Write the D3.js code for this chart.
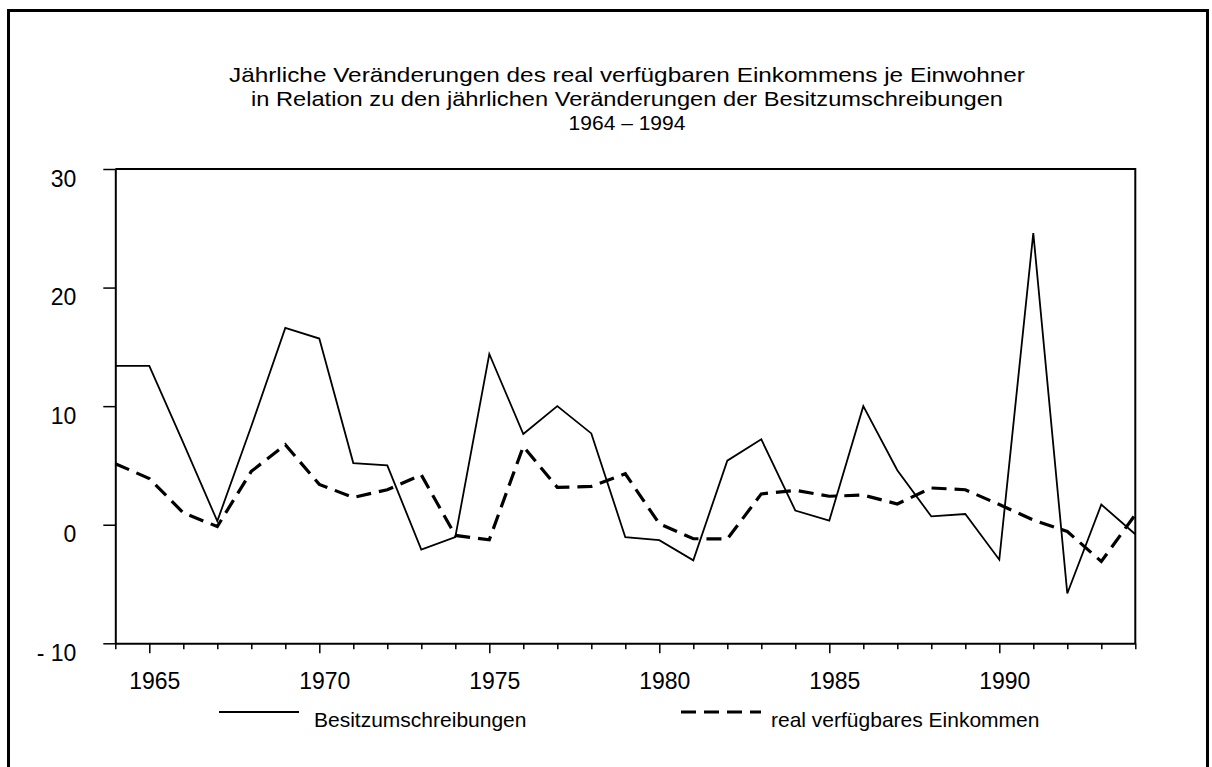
<!DOCTYPE html>
<html>
<head>
<meta charset="utf-8">
<script src="https://cdn.jsdelivr.net/npm/d3@7"></script>
<style>
  body { margin: 0; background: #fff; }
  text { font-family: "Liberation Sans", Arial, sans-serif; fill: #000; }
</style>
</head>
<body>
<svg id="chart" width="1212" height="767"></svg>
<script>
// Jahre 1964-1994
const years = d3.range(1964, 1995);
// Besitzumschreibungen, jährliche Veränderung in %
const besitz = [13.4, 13.4, 6.9, 0.3, 8.3, 16.6, 15.7, 5.2, 5.0, -2.1,
  -1.05, 14.4, 7.65, 10.0, 7.7, -1.05, -1.3, -3.0, 5.4, 7.2,
  1.2, 0.35, 10.0, 4.6, 0.7, 0.9, -2.95, 24.6, -5.8, 1.7, -0.8];
// real verfügbares Einkommen je Einwohner, jährliche Veränderung in %
const einkommen = [5.15, 3.9, 1.0, -0.15, 4.5, 6.75, 3.4, 2.3, 2.95, 4.2,
  -0.9, -1.27, 6.6, 3.15, 3.23, 4.3, 0.08, -1.18, -1.2, 2.6,
  2.9, 2.4, 2.5, 1.75, 3.1, 2.95, 1.7, 0.4, -0.57, -3.1, 0.85];
const yTicks = [-10, 0, 10, 20, 30];
const titleLines = [
  'Jährliche Veränderungen des real verfügbaren Einkommens je Einwohner',
  'in Relation zu den jährlichen Veränderungen der Besitzumschreibungen',
  '1964 – 1994'
];
const titleWidths = [796, 752, null]; // Breite der Titelzeilen im Original
const legendItems = [
  { name: 'Besitzumschreibungen', dash: null, width: 1.8, x: 219 },
  { name: 'real verfügbares Einkommen', dash: '15,8', width: 3.2, x: 681 }
];

const svg = d3.select('#chart');

// äußerer Rahmen
svg.append('rect')
  .attr('x', 8.5).attr('y', 10.5)
  .attr('width', 1199).attr('height', 780)
  .attr('fill', 'none').attr('stroke', '#000').attr('stroke-width', 3);

// Titel
svg.append('g').selectAll('text')
  .data(titleLines)
  .join('text')
  .attr('x', 627)
  .attr('y', (d, i) => 82 + i * 24)
  .attr('text-anchor', 'middle')
  .attr('font-size', 21)
  .attr('textLength', (d, i) => titleWidths[i])
  .attr('lengthAdjust', 'spacingAndGlyphs')
  .text(d => d);

const x = d3.scaleLinear().domain([1964, 1994]).range([115.3, 1135.3]);
const y = d3.scaleLinear().domain([-10, 30]).range([643.3, 169]);

// x-Achse
const xAxis = svg.append('g')
  .attr('transform', `translate(0,${y(-10)})`)
  .call(d3.axisBottom(x)
    .tickValues(years)
    .tickSizeOuter(0)
    .tickFormat(d => (d % 5 === 0 && d < 1994 ? d : '')));
xAxis.select('.domain').attr('stroke-width', 2);
xAxis.selectAll('.tick line')
  .attr('stroke-width', 1.5)
  .attr('y2', d => (d % 5 === 0 ? 10 : 6));
xAxis.selectAll('.tick text')
  .attr('font-size', 23)
  .attr('font-family', '"Liberation Sans", Arial, sans-serif')
  .attr('dx', 5)
  .attr('y', 46)
  .attr('dy', 0);

// y-Achse
const yAxis = svg.append('g')
  .attr('transform', `translate(${x(1964)},0)`)
  .call(d3.axisLeft(y)
    .tickValues(yTicks)
    .tickSize(12)
    .tickSizeOuter(0)
    .tickFormat(d => (d < 0 ? '- ' + Math.abs(d) : d)));
yAxis.select('.domain').attr('stroke-width', 2);
yAxis.selectAll('.tick line').attr('stroke-width', 1.5);
yAxis.selectAll('.tick text')
  .attr('font-size', 23)
  .attr('font-family', '"Liberation Sans", Arial, sans-serif')
  .attr('x', -39)
  .attr('dy', 0)
  .attr('y', 17);

// Rahmen oben / rechts
svg.append('path')
  .attr('d', `M${x(1964)},${y(30)}H${x(1994)}V${y(-10)}`)
  .attr('fill', 'none').attr('stroke', '#000').attr('stroke-width', 2);

const line = d3.line().x((d, i) => x(years[i])).y(d => y(d));

svg.append('path')
  .datum(besitz)
  .attr('d', line)
  .attr('fill', 'none').attr('stroke', '#000')
  .attr('stroke-width', 1.8).attr('stroke-linejoin', 'miter');

svg.append('path')
  .datum(einkommen)
  .attr('d', line)
  .attr('fill', 'none').attr('stroke', '#000')
  .attr('stroke-width', 3.2).attr('stroke-dasharray', '15,8');

// Legende
const legend = svg.append('g').selectAll('g')
  .data(legendItems)
  .join('g')
  .attr('transform', d => `translate(${d.x},712)`);
legend.append('line')
  .attr('x1', 0).attr('x2', 80)
  .attr('stroke', '#000')
  .attr('stroke-width', d => d.width)
  .attr('stroke-dasharray', d => d.dash);
legend.append('text')
  .attr('x', d => (d.dash ? 90 : 95))
  .attr('y', 15)
  .attr('font-size', 21)
  .text(d => d.name);
</script>
</body>
</html>
